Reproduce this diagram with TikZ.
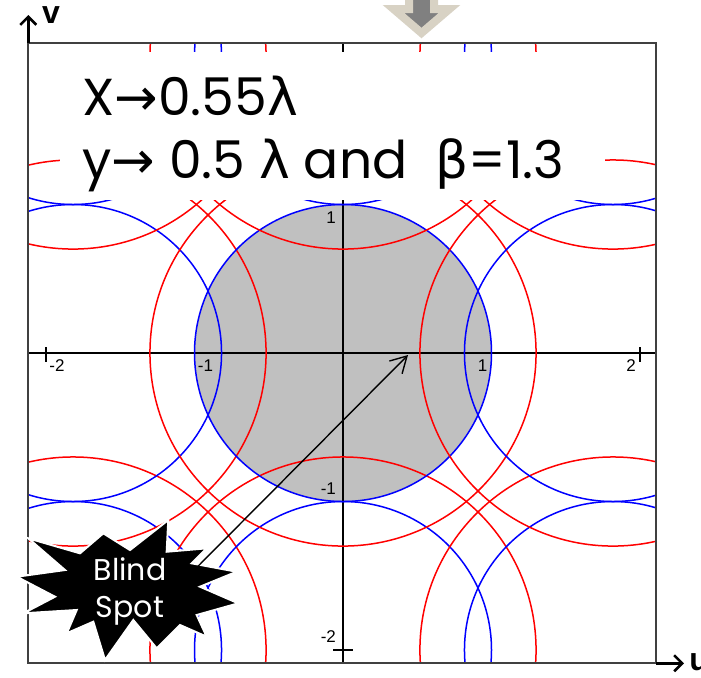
\documentclass[tikz,border=0pt]{standalone}
\usepackage{fontspec}
\setmainfont{Poppins}
\newfontfamily\symfont{DejaVu Sans}
\newfontfamily\tickfont{Liberation Sans}
\usetikzlibrary{arrows.meta}
\definecolor{lobered}{RGB}{255,0,0}
\definecolor{lobeblue}{RGB}{0,0,255}
\definecolor{visgray}{RGB}{192,192,192}
\definecolor{framegray}{RGB}{64,64,64}
\definecolor{arrowfill}{RGB}{128,128,128}
\definecolor{arrowedge}{RGB}{216,210,196}

\begin{document}
\begin{tikzpicture}[x=0.5pt, y=-0.5pt,
  plotframe/.style={draw=framegray, line width=1pt},
  axisarr/.style={-{Straight Barb[length=4pt, width=8pt]}, line width=1.3pt},
  lobe/.style={line width=0.75pt},
  tickmark/.style={black, line width=0.7pt},
  ticklbl/.style={font=\tickfont\fontsize{8.5}{10}\selectfont, inner sep=0pt},
  axlbl/.style={font=\tickfont\bfseries\fontsize{16}{18}\selectfont, inner sep=0pt},
  note/.style={font=\fontsize{26}{30}\selectfont, anchor=base west, inner sep=0pt},
  spotarr/.style={-{Straight Barb[length=8pt, width=9pt]}, line width=0.7pt},
]
  \useasboundingbox (0,0) rectangle (701,677);

  % u-v plane
  \begin{scope}[shift={(343,353)}, x=74.25pt, y=74.25pt]
    \begin{scope}
      \clip (-2.119,-2.09) rectangle (2.108,2.09);
      % visible region
      \fill[visgray] (0,0) circle (1);
      % axes
      \draw[tickmark] (-2.2,0) -- (2.2,0);
      \draw[tickmark] (0,-2.2) -- (0,2.2);
      \foreach \t in {-2,-1,1,2} {
        \draw[tickmark] (\t,-0.06) -- (\t,0.04);
        \draw[tickmark] (-0.067,\t) -- (0.067,\t);
      }
      % lobe circles
      \foreach \m in {-1,0,1} \foreach \n in {-1,0,1} {
        \draw[lobe, lobered] (1.818*\m, 2*\n) circle (1.3);
        \draw[lobe, lobeblue] (1.818*\m, 2*\n) circle (1);
      }
    \end{scope}
    % tick labels
    \foreach \t in {1,2} {
      \node[ticklbl, anchor=north east] (up\t) at (\t-0.025,-0.04) {\t};
      \node[ticklbl, anchor=east] (vp\t) at (-0.045,\t-0.09) {\t};
    }
    \foreach \t in {1,2} {
      \node[ticklbl, anchor=north west] (um\t) at (-\t+0.02,-0.04) {-\t};
      \node[ticklbl, anchor=east] (vm\t) at (-0.045,-\t+0.09) {-\t};
    }
  \end{scope}

  % frame and axis arrows
  \draw[plotframe] (28.3,42.7) rectangle (656,663.3);
  \coordinate (corner) at (28.3,42.7);
  \coordinate (vend) at (28.3,15);
  \coordinate (uorg) at (656,663.3);
  \coordinate (uend) at (684,663.3);
  \draw[axisarr] (corner) -- (vend);
  \draw[axisarr] (uorg) -- (uend);
  \node[axlbl] (vlbl) at (51,15) {v};
  \node[axlbl, anchor=west] (ulbl) at (689,662) {u};

  % text panel
  \fill[white] (60,52) rectangle (605,200);
  \node[note] (xspec) at (82,115) {X{\symfont →}0.55{\symfont λ}};
  \node[note] (yspec) at (82,178) {y{\symfont →} 0.5 {\symfont λ} and\ \ {\symfont β}=1.3};

  % top arrow
  \draw[fill=arrowfill, draw=arrowedge, line width=4pt, line join=miter]
    (409,-10) -- (409,9) -- (393.5,9) -- (421.5,33) -- (449.5,9) -- (434,9) -- (434,-10);

  % blind spot burst
  \fill[black, draw=white, line width=1pt]
    (168.3,520) -- (166.7,551.7) -- (206.7,548.3) -- (191.7,563.3) -- (236.7,571.7)
    -- (200,586.7) -- (238.3,603.3) -- (196.7,615) -- (206.7,636.7) -- (180,625)
    -- (156.7,648.3) -- (133.3,620) -- (105,660) -- (93.3,621.7) -- (66.7,633.3)
    -- (76.7,610) -- (23.3,613.3) -- (55,596.7) -- (16.7,576.7) -- (65,570)
    -- (28.3,538.3) -- (80,553.3) -- (103.3,533.3) -- (130,550) -- cycle;
  \node[font=\fontsize{15}{18.5}\selectfont, text=white, align=center] (blindtxt) at (130,591) {Blind\\Spot};
  \coordinate (spot) at (408,355);
  \draw[spotarr] (blindtxt.east) -- (spot);
\end{tikzpicture}
\end{document}
